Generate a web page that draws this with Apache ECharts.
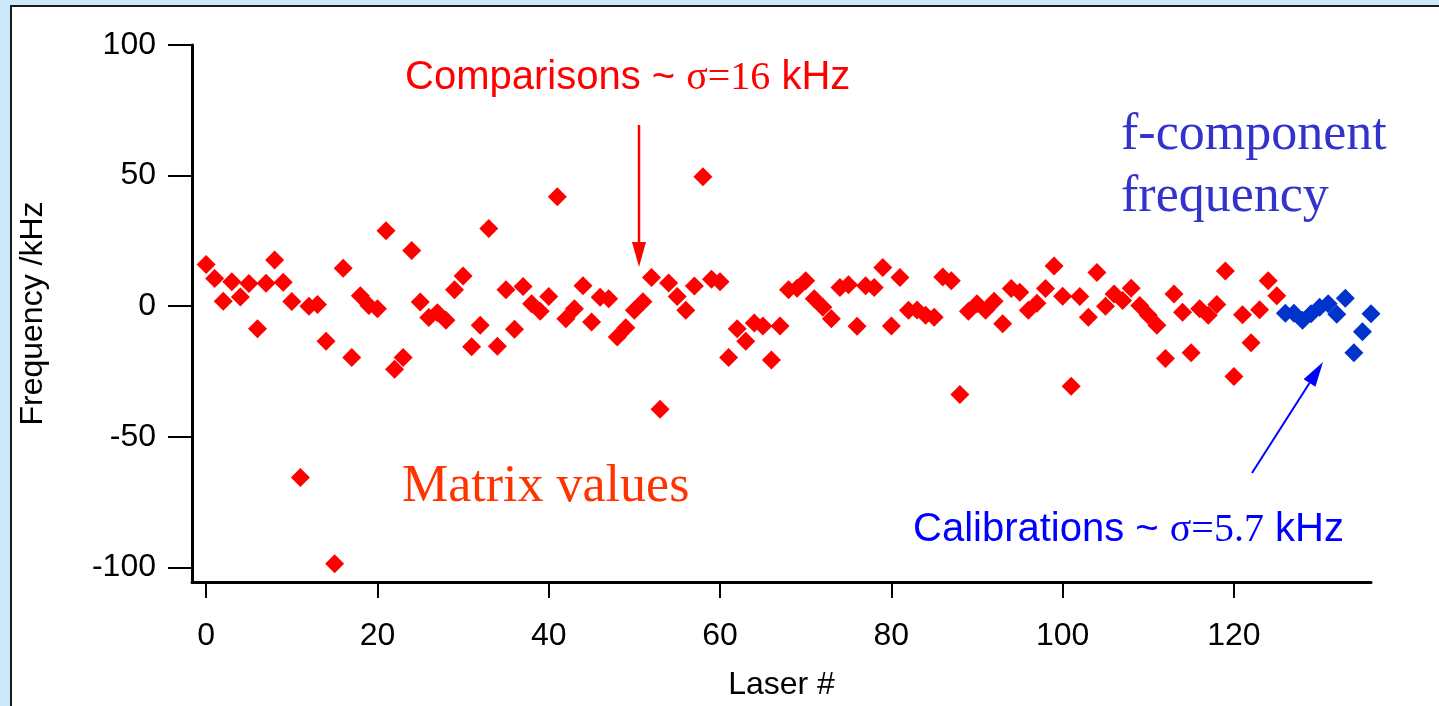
<!DOCTYPE html>
<html>
<head>
<meta charset="utf-8">
<script src="https://cdn.jsdelivr.net/npm/echarts@6/dist/echarts.min.js"></script>
<style>
  html, body { margin:0; padding:0; width:1439px; height:706px; overflow:hidden; background:#cce8fa; }
  #panel { position:absolute; left:10px; top:5px; width:1500px; height:800px; background:#ffffff; border:2px solid #1a1a1a; }
  #chart { position:absolute; left:0; top:0; width:1439px; height:706px; }
</style>
</head>
<body>
<div id="panel"></div>
<div id="chart"></div>
<script>
// Matrix values (red), Laser # 0..125
const matrixValues = [
  16, 10.6, 1.9, 9.4, 3.5, 8.7, -8.6, 8.8, 17.7, 9.2,
  1.8, -65.6, 0, 0.6, -13.4, -98.6, 14.5, -19.6, 4, 0.3,
  -1.0, 28.9, -24.1, -19.6, 21.3, 1.6, -4.3, -2.5, -5.4, 6.3,
  11.6, -15.5, -7.3, 29.7, -15.3, 6.3, -8.8, 7.5, 0.9, -1.9,
  3.7, 41.9, -4.8, -1.0, 7.8, -6.1, 3.4, 2.8, -11.8, -8.3,
  -1.6, 1.7, 11, -39.5, 8.9, 3.7, -1.6, 7.7, 49.6, 10.3,
  9.4, -19.6, -8.6, -13.4, -6.4, -7.6, -20.6, -7.6, 6.3, 6.9,
  9.7, 2.8, -0.4, -4.8, 7.2, 8.2, -7.7, 7.8, 7.2, 14.8,
  -7.6, 11, -1.6, -1.5, -3.5, -4.2, 11.2, 9.7, -33.8, -1.9,
  0.9, -1.6, 1.9, -6.7, 6.8, 5.3, -1.6, 1.1, 6.8, 15.4,
  3.8, -30.7, 3.7, -4.2, 12.9, 0, 4.7, 2.2, 6.9, 0.3,
  -3.5, -7.3, -20, 4.7, -2.3, -17.8, -1.0, -3.5, 0.6, 13.5,
  -26.9, -3.3, -14, -1.4, 9.7, 4.0
];
// f-component frequency calibrations (blue), Laser # 126..136
const calibStart = 126;
const calibValues = [-2.7, -2.7, -5.4, -2.9, -0.4, 0.9, -3.1, 3.0, -17.8, -9.8, -2.9];

const xTicks = [0, 20, 40, 60, 80, 100, 120];
const yTicks = [-100, -50, 0, 50, 100];

const matrixData = matrixValues.map((v, i) => [i, v]);
const calibData = calibValues.map((v, i) => [calibStart + i, v]);

const sans = 'Liberation Sans, Arial, Helvetica, sans-serif';
const serif = 'Liberation Serif, Times New Roman, serif';

const chart = echarts.init(document.getElementById('chart'), null, { renderer: 'canvas' });

function arrow(tail, tip, color, headLen, headHalf, lw) {
  const dx = tip[0] - tail[0], dy = tip[1] - tail[1];
  const L = Math.sqrt(dx * dx + dy * dy);
  const ux = dx / L, uy = dy / L;
  const bx = tip[0] - ux * headLen, by = tip[1] - uy * headLen;
  const nx = -uy, ny = ux;
  return [
    { type: 'line', shape: { x1: tail[0], y1: tail[1], x2: bx, y2: by }, style: { stroke: color, lineWidth: lw }, z: 10 },
    { type: 'polygon', shape: { points: [[tip[0], tip[1]], [bx + nx * headHalf, by + ny * headHalf], [bx - nx * headHalf, by - ny * headHalf]] }, style: { fill: color }, z: 10 }
  ];
}

const option = {
  backgroundColor: 'transparent',
  animation: false,
  grid: { left: 192, top: 45, right: 68, bottom: 119, containLabel: false },
  xAxis: {
    type: 'value', min: -1.65, max: 136,
    name: 'Laser #', nameLocation: 'middle', nameGap: 87,
    nameTextStyle: { fontFamily: sans, fontSize: 32, color: '#000' },
    axisLine: { show: true, onZero: false, lineStyle: { color: '#000', width: 3 } },
    axisTick: { show: true, length: 16, customValues: xTicks, lineStyle: { color: '#000', width: 2 } },
    axisLabel: { customValues: xTicks, margin: 38, fontFamily: sans, fontSize: 32, color: '#000' },
    splitLine: { show: false }
  },
  yAxis: {
    type: 'value', min: -105.6, max: 100,
    name: 'Frequency /kHz', nameLocation: 'middle', nameGap: 143,
    nameTextStyle: { fontFamily: sans, fontSize: 32, color: '#000' },
    axisLine: { show: true, onZero: false, lineStyle: { color: '#000', width: 3 } },
    axisTick: { show: true, length: 24, customValues: yTicks, lineStyle: { color: '#000', width: 2 } },
    axisLabel: { customValues: yTicks, margin: 36, fontFamily: sans, fontSize: 32, color: '#000' },
    splitLine: { show: false }
  },
  series: [
    {
      name: 'Matrix values', type: 'scatter', data: matrixData, clip: false,
      symbol: 'diamond', symbolSize: 19,
      itemStyle: { color: '#ff0000', opacity: 1 }
    },
    {
      name: 'Calibrations', type: 'scatter', data: calibData, clip: false,
      symbol: 'diamond', symbolSize: 19,
      itemStyle: { color: '#0033cc', opacity: 1 }
    }
  ],
  graphic: [
    {
      type: 'text', x: 405, y: 78, z: 10,
      style: {
        text: '{a|Comparisons ~ }{b|σ=16}{a| kHz}',
        verticalAlign: 'middle', align: 'left',
        rich: {
          a: { fontFamily: sans, fontSize: 40, fill: '#ff0000' },
          b: { fontFamily: serif, fontSize: 40, fill: '#ff0000' }
        }
      }
    },
    {
      type: 'text', x: 913, y: 530, z: 10,
      style: {
        text: '{a|Calibrations ~ }{b|σ=5.7}{a| kHz}',
        verticalAlign: 'middle', align: 'left',
        rich: {
          a: { fontFamily: sans, fontSize: 40, fill: '#0000ff' },
          b: { fontFamily: serif, fontSize: 40, fill: '#0000ff' }
        }
      }
    },
    {
      type: 'text', x: 1121, y: 135, z: 10,
      style: { text: 'f-component', fontFamily: serif, fontSize: 52, fill: '#3333cc', verticalAlign: 'middle', align: 'left' }
    },
    {
      type: 'text', x: 1121, y: 197, z: 10,
      style: { text: 'frequency', fontFamily: serif, fontSize: 52, fill: '#3333cc', verticalAlign: 'middle', align: 'left' }
    },
    {
      type: 'text', x: 402, y: 487, z: 10,
      style: { text: 'Matrix values', fontFamily: serif, fontSize: 52, fill: '#ff3300', verticalAlign: 'middle', align: 'left' }
    }
  ].concat(arrow([639, 125], [639, 267], '#ff0000', 25, 7, 2.5))
   .concat(arrow([1252, 473], [1323, 362], '#0000ff', 25, 7, 2))
};

chart.setOption(option);
</script>
</body>
</html>
